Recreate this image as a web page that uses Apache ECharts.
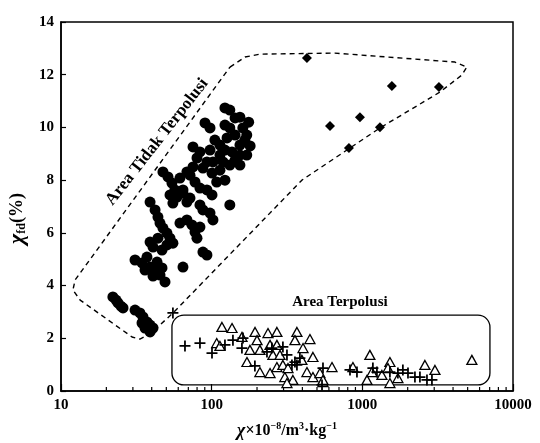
<!DOCTYPE html>
<html><head><meta charset="utf-8">
<script src="https://cdn.jsdelivr.net/npm/echarts@6/dist/echarts.min.js"></script>
<style>html,body{margin:0;padding:0;background:#fff}#c{width:540px;height:443px}</style>
</head><body><div id="c"></div>
<script>
// ---- data ----
const minorTicksX = [20,30,40,50,60,70,80,90,200,300,400,500,600,700,800,900,2000,3000,4000,5000,6000,7000,8000,9000];
const circles = [
 [22.1,3.57],[23.2,3.45],[23.9,3.34],[25.0,3.22],[25.8,3.15],
 [31.0,3.07],[33.4,2.96],[35.0,2.81],[37.2,2.62],[39.0,2.50],[40.8,2.39],[36.1,2.39],[39.0,2.24],[34.5,2.58],
 [31.0,4.97],[34.5,4.86],[37.2,5.08],[36.1,4.59],[39.0,4.70],[42.1,4.59],[43.4,4.89],[45.4,4.40],[49.0,4.14],[40.8,4.36],[46.8,4.67],[39.0,5.65],[40.8,5.46],[44.0,5.80],[50.5,5.54],[46.8,5.35],
 [39.0,7.17],[42.1,6.87],[44.0,6.60],[45.4,6.37],[47.5,6.18],[50.5,5.99],[52.9,5.80],[55.3,5.61],[52.9,7.44],[55.3,7.13],[64.5,7.51],[68.5,7.17],[61.6,6.37],[68.5,6.49],[74.0,6.30],[77.5,6.03],[79.9,5.80],[83.6,6.22],[87.5,6.87],[97.5,6.75],[102,6.49],[87.5,5.27],[93.0,5.16],[64.5,4.70],[57.0,7.63],[58.9,7.36],[54.5,7.89],[51.3,8.12],[47.5,8.31],[64.5,7.63],[71.8,7.32],[83.6,7.06],
 [122.5,10.74],[132,10.66],[154,10.39],[171,9.71],[90.3,10.17],[97.5,9.98],[132,9.98],[143,9.71],[126.5,9.60],[113.5,9.33],[154,9.33],[171,8.95],[154,8.95],[136.5,9.07],[113.5,8.95],[102,8.69],[119,8.69],[132,8.57],[75.2,9.26],[83.6,9.07],[93.0,8.69],[87.5,8.46],[100.5,8.27],[108,7.93],[75.2,8.50],[68.5,8.31],[61.6,8.08],[71.8,8.19],[77.5,7.93],[83.6,7.70],[93.0,7.63],[132,7.06],[166,9.52],[161,9.98],[143,10.36],[122.5,10.09],[105,9.52],[97.5,9.14],[122.5,9.14],[143,8.76],[154,8.57],[113.5,8.38],[122.5,8.00],[100.5,7.44],[79.9,8.84],[176,10.2],[180,9.3]
];
const diamonds = [[429,12.63],[1571,11.57],[3223,11.53],[610,10.05],[964,10.39],[1309,10.01],[815,9.22]];
const crosses = [
 [55.3,2.96],[66.5,1.71],[83.6,1.82],[100.5,1.44],[122.5,1.75],[138.4,1.93],[158.8,1.63],[161.4,2.01],[193.6,0.95],[232.8,1.48],[251,1.63],[297,1.67],[316,1.37],[357,1.10],[368,0.99],[385,1.25],[341,0.99],[548,0.87],[540,0.23],
 [828,0.80],[921,0.72],[1175,0.87],[1250,0.72],[1524,0.72],[1722,0.68],[1858,0.80],[2009,0.68],[2234,0.53],[2411,0.53],[2685,0.42],[2897,0.42]
];
const triangles = [
 [117,2.43],[136.5,2.39],[108,1.82],[113.5,1.71],[159,2.05],[194,2.24],[200,1.93],[236.5,2.20],[271,2.24],[368,2.24],[357,1.93],[449,1.97],[179.5,1.56],[209,1.56],[244,1.75],[271,1.75],[255,1.37],[284,1.37],[171.5,1.10],[209,0.72],[244,0.68],[271,0.91],[306,0.53],[346,0.42],[404,1.63],[397,1.18],[470,1.29],[429,0.72],[470,0.53],[523,0.68],[629,0.91],[316,0.30],[548,0.34],[297,0.99],[321,0.87],[548,0.42],
 [866,0.91],[1122,1.37],[1074,0.42],[1158,0.72],[1349,0.61],[1524,1.10],[1479,0.87],[1524,0.30],[1722,0.49],[2602,0.99],[3034,0.80],[5333,1.18]
];
const cleanBoundary = [[132.2,12.29],[166.3,12.67],[209.2,12.78],[658,12.82],[4116,12.48],[4943,12.29],[4581,11.99],[3273,11.34],[1309,9.98],[397,8.00],[55.4,2.96],[38.96,2.16],[33.4,1.97],[29.6,2.05],[13.4,3.45],[12.0,3.83],[12.4,4.21],[132.2,12.29]];
const pollutedBox = [[54.5,2.88],[7030,0.23]];
const labelClean = {text:'Area Tidak Terpolusi', at:[43.4,9.45]};
const labelPolluted = {text:'Area Terpolusi', at:[710,3.38]};

// ---- chart ----
const font = '"Liberation Serif","Times New Roman",serif';
const chart = echarts.init(document.getElementById('c'), null, {renderer:'canvas'});
const option = {
  animation:false,
  grid:{left:61, right:27, top:22, bottom:52, show:true, borderColor:'#000', borderWidth:1.5, outerBoundsMode:'none', containLabel:false},
  xAxis:{
    type:'log', logBase:10, min:10, max:10000,
    axisLine:{lineStyle:{color:'#000', width:1.5}},
    axisTick:{inside:true, length:7, lineStyle:{color:'#000', width:1.2}},
    axisLabel:{color:'#000', fontFamily:font, fontSize:15, fontWeight:'bold', margin:7, formatter:v=>String(Math.round(v))},
    splitLine:{show:false},
    name:'{i|χ}{n|×10}{s|−8}{n|/m}{s|3}{n|·kg}{s|−1}',
    nameLocation:'middle', nameGap:30,
    nameTextStyle:{rich:{
      i:{fontFamily:font, fontSize:18, fontStyle:'italic', fontWeight:'bold', color:'#000', lineHeight:20},
      n:{fontFamily:font, fontSize:16, fontWeight:'bold', color:'#000', lineHeight:20},
      s:{fontFamily:font, fontSize:10, fontWeight:'bold', color:'#000', verticalAlign:'top', lineHeight:20}
    }}
  },
  yAxis:{
    type:'value', min:0, max:14, interval:2,
    axisLine:{lineStyle:{color:'#000', width:1.5}},
    axisTick:{inside:true, length:5, lineStyle:{color:'#000', width:1.2}},
    axisLabel:{color:'#000', fontFamily:font, fontSize:15, fontWeight:'bold', margin:7},
    splitLine:{show:false},
    name:'{i|χ}{s|fd}{n|(%)}', nameLocation:'middle', nameGap:28, nameRotate:90,
    nameTextStyle:{padding:[0,24,0,0], rich:{
      i:{fontFamily:font, fontSize:22, fontStyle:'italic', fontWeight:'bold', color:'#000', lineHeight:22},
      n:{fontFamily:font, fontSize:18, fontWeight:'bold', color:'#000', lineHeight:22},
      s:{fontFamily:font, fontSize:12, fontWeight:'bold', color:'#000', verticalAlign:'bottom', lineHeight:22}
    }}
  },
  series:[
    {type:'line', data:cleanBoundary, symbol:'none', silent:true, z:1,
     lineStyle:{color:'#000', width:1.4, type:[5,4]}},
    {type:'scatter', data:minorTicksX.map(v=>[v,0]), symbol:'rect', symbolSize:[1.2,4], symbolOffset:[0,-2], silent:true, z:3,
     itemStyle:{color:'#000', opacity:1}},
    {type:'scatter', data:circles, symbol:'circle', symbolSize:11, itemStyle:{color:'#000', opacity:1}, z:4},
    {type:'scatter', data:diamonds, symbol:'diamond', symbolSize:10, itemStyle:{color:'#000', opacity:1}, z:4},
    {type:'scatter', data:triangles, symbol:'triangle', symbolSize:[10,9], itemStyle:{color:'#fff', borderColor:'#000', borderWidth:1.3, opacity:1}, z:4},
    {type:'scatter', data:crosses, symbol:'path://M4.2,0H5.8V4.2H10V5.8H5.8V10H4.2V5.8H0V4.2H4.2Z', symbolSize:11, itemStyle:{color:'#000', opacity:1}, z:5}
  ]
};
chart.setOption(option);

function placeAnnotations(){
  const p = v => chart.convertToPixel({gridIndex:0}, v);
  const a = p(pollutedBox[0]), b = p(pollutedBox[1]);
  const t1 = p(labelClean.at), t2 = p(labelPolluted.at);
  chart.setOption({graphic:[
    {type:'rect', z:2, silent:true,
     shape:{x:a[0], y:a[1], width:b[0]-a[0], height:b[1]-a[1], r:12},
     style:{fill:'none', stroke:'#000', lineWidth:1.3}},
    {type:'text', x:t1[0], y:t1[1], rotation:52*Math.PI/180, z:6, silent:true,
     style:{text:labelClean.text, font:'bold 17px '+font, fill:'#000', align:'center', verticalAlign:'middle'}},
    {type:'text', x:t2[0], y:t2[1], z:6, silent:true,
     style:{text:labelPolluted.text, font:'bold 15px '+font, fill:'#000', align:'center', verticalAlign:'middle'}}
  ]});
}
placeAnnotations();
</script>
</body></html>
